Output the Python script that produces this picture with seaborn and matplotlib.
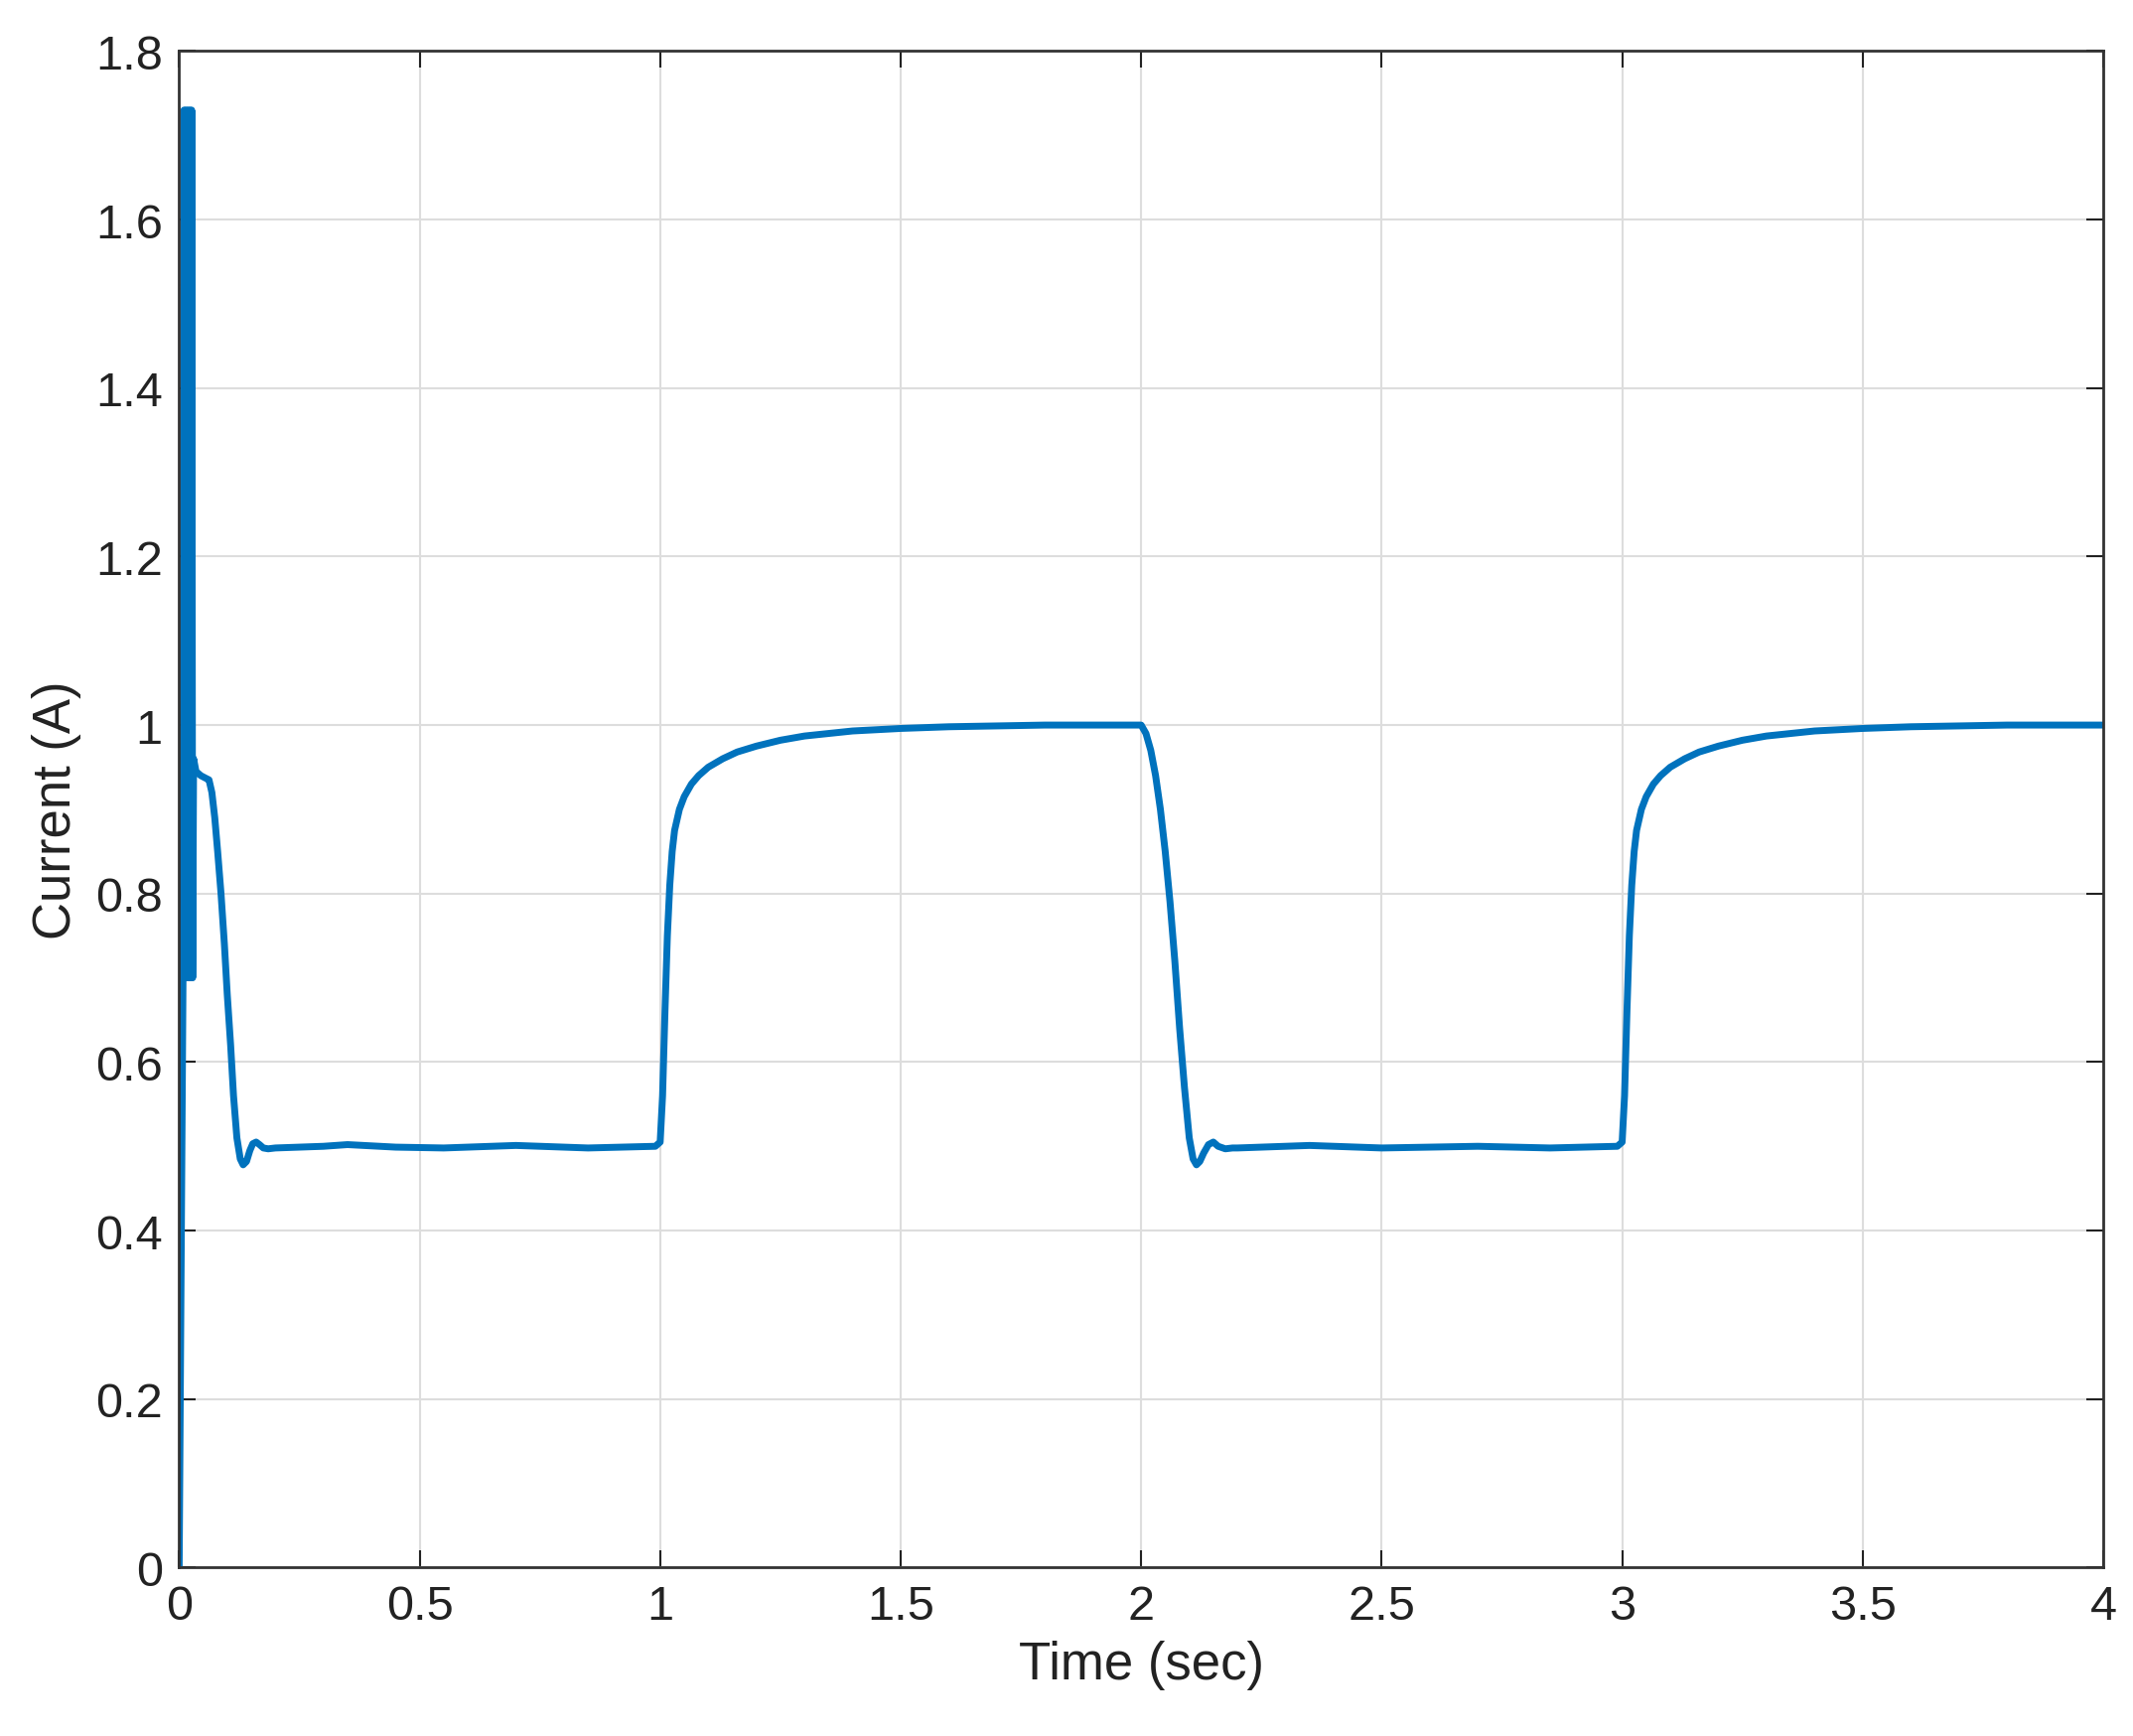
import matplotlib
matplotlib.use("Agg")
import matplotlib.pyplot as plt
import seaborn as sns
import pandas as pd

sns.set_theme(style="whitegrid")
plt.rcParams['font.family'] = ['Liberation Sans', 'DejaVu Sans']

time = [0.0, 0.004, 0.008, 0.010, 0.012, 0.014, 0.016, 0.018, 0.020, 0.022, 0.024, 0.026, 0.028, 0.030,
        0.035, 0.045, 0.055, 0.062, 0.068, 0.074, 0.080, 0.087, 0.094, 0.100, 0.107, 0.113, 0.120, 0.127,
        0.133, 0.140, 0.147, 0.153, 0.160, 0.167, 0.175, 0.185, 0.20,
        0.30, 0.35, 0.45, 0.55, 0.70, 0.85, 0.99, 1.000, 1.005, 1.010, 1.015, 1.020, 1.025, 1.030, 1.040,
        1.050, 1.065, 1.08, 1.10, 1.13, 1.16, 1.2, 1.25, 1.3, 1.4, 1.5, 1.6, 1.8, 1.98,
        2.000, 2.010, 2.020, 2.030, 2.040, 2.050, 2.060, 2.070, 2.080, 2.090, 2.100, 2.108, 2.115, 2.122,
        2.130, 2.140, 2.150, 2.160, 2.175, 2.19, 2.2, 2.35, 2.5,
        2.7, 2.85, 2.99, 3.000, 3.005, 3.010, 3.015, 3.020, 3.025, 3.030, 3.040,
        3.050, 3.065, 3.08, 3.10, 3.13, 3.16, 3.2, 3.25, 3.3, 3.4, 3.5, 3.6, 3.8, 4.0]
current = [0.0, 0.35, 0.70, 1.73, 0.70, 1.73, 0.70, 1.73, 0.70, 1.73, 0.70, 1.73, 0.70, 0.96,
           0.945, 0.94, 0.937, 0.935, 0.92, 0.89, 0.85, 0.80, 0.74, 0.68, 0.62, 0.56, 0.51, 0.485,
           0.478, 0.482, 0.495, 0.503, 0.505, 0.502, 0.498, 0.497, 0.498,
           0.500, 0.502, 0.499, 0.498, 0.501, 0.498, 0.500, 0.505, 0.56, 0.66, 0.75, 0.81, 0.85, 0.875, 0.90,
           0.915, 0.93, 0.94, 0.95, 0.96, 0.968, 0.975, 0.982, 0.987, 0.993, 0.996, 0.998, 1.0, 1.0,
           1.0, 0.99, 0.97, 0.94, 0.90, 0.85, 0.79, 0.72, 0.64, 0.57, 0.51, 0.485, 0.478, 0.482,
           0.492, 0.502, 0.505, 0.500, 0.497, 0.498, 0.498, 0.501, 0.498,
           0.500, 0.498, 0.500, 0.505, 0.56, 0.66, 0.75, 0.81, 0.85, 0.875, 0.90,
           0.915, 0.93, 0.94, 0.95, 0.96, 0.968, 0.975, 0.982, 0.987, 0.993, 0.996, 0.998, 1.0, 1.0]

df = pd.DataFrame({"t": time, "i": current})

fig = plt.figure(figsize=(21.48, 17.49), dpi=100)
ax = fig.add_axes([0.084, 0.097, 0.902, 0.873])
sns.lineplot(data=df, x="t", y="i", ax=ax, color="#0072BD", linewidth=5, sort=False)

ax.set_xlim(0, 4)
ax.set_ylim(0, 1.8)
ax.set_xticks([0, 0.5, 1, 1.5, 2, 2.5, 3, 3.5, 4])
ax.set_xticklabels(["0", "0.5", "1", "1.5", "2", "2.5", "3", "3.5", "4"])
ax.set_yticks([0, 0.2, 0.4, 0.6, 0.8, 1, 1.2, 1.4, 1.6, 1.8])
ax.set_yticklabels(["0", "0.2", "0.4", "0.6", "0.8", "1", "1.2", "1.4", "1.6", "1.8"])
ax.set_xlabel("Time (sec)", fontsize=38, color="#222222", labelpad=8)
ax.set_ylabel("Current (A)", fontsize=38, color="#222222", labelpad=10)
ax.tick_params(axis="both", labelsize=35, colors="#222222", direction="in", length=12, width=1.5,
               top=True, right=True, bottom=True, left=True, pad=12)
ax.grid(True, color="#dddddd", linewidth=1.5)
for s in ax.spines.values():
    s.set_color("#333333")
    s.set_linewidth(2)
fig.savefig("out.png", dpi=100, facecolor="white")
